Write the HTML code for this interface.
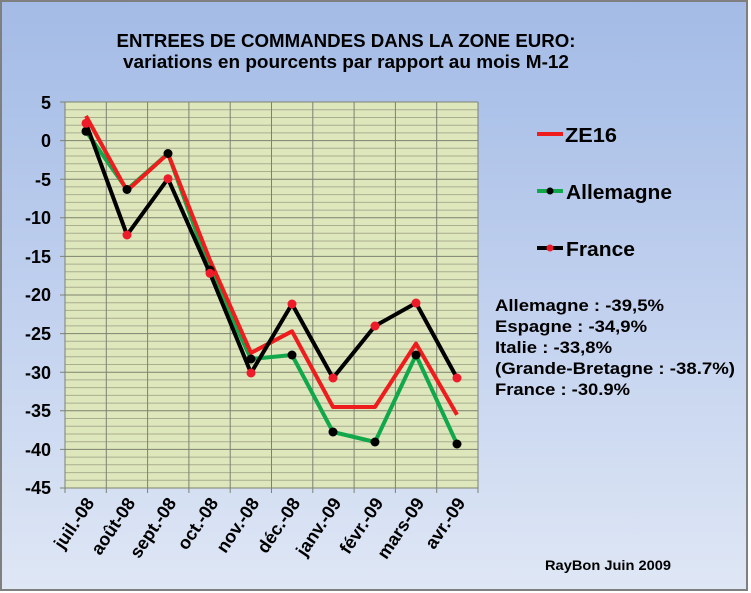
<!DOCTYPE html>
<html><head><meta charset="utf-8"><style>
html,body{margin:0;padding:0;background:#fff}
svg{display:block;font-family:"Liberation Sans",sans-serif;font-weight:bold}
</style></head><body>
<svg width="751" height="593" viewBox="0 0 751 593" xmlns="http://www.w3.org/2000/svg">
<defs>
<linearGradient id="bg" x1="0" y1="0" x2="0" y2="1">
<stop offset="0" stop-color="#a3bbe6"/>
<stop offset="0.5" stop-color="#c0d0ee"/>
<stop offset="1" stop-color="#dfe7f5"/>
</linearGradient>
</defs>
<rect x="1" y="1" width="746" height="589" fill="url(#bg)" stroke="#7f7f7f" stroke-width="2"/>
<text x="346" y="47" font-size="18" text-anchor="middle" textLength="459" lengthAdjust="spacingAndGlyphs">ENTREES DE COMMANDES DANS LA ZONE EURO:</text>
<text x="346" y="68" font-size="18" text-anchor="middle" textLength="446" lengthAdjust="spacingAndGlyphs">variations  en pourcents par rapport au mois M-12</text>
<rect x="65" y="102" width="413" height="386" fill="#dee6bc"/>
<g stroke="#a9ae90" stroke-width="1">
<path d="M65 109.7H478M65 117.5H478M65 125.2H478M65 132.9H478M65 148.3H478M65 156.0H478M65 163.8H478M65 171.5H478M65 186.9H478M65 194.6H478M65 202.4H478M65 210.1H478M65 225.5H478M65 233.2H478M65 241.0H478M65 248.7H478M65 264.1H478M65 271.8H478M65 279.6H478M65 287.3H478M65 302.7H478M65 310.4H478M65 318.2H478M65 325.9H478M65 341.3H478M65 349.0H478M65 356.8H478M65 364.5H478M65 379.9H478M65 387.6H478M65 395.4H478M65 403.1H478M65 418.5H478M65 426.2H478M65 434.0H478M65 441.7H478M65 457.1H478M65 464.8H478M65 472.6H478M65 480.3H478"/>
</g>
<g stroke="#7d8270" stroke-width="1">
<path d="M60 102H478M60 140.6H478M60 179.2H478M60 217.8H478M60 256.4H478M60 295H478M60 333.6H478M60 372.2H478M60 410.8H478M60 449.4H478M60 488H478"/>
<path d="M65 102V493M106.3 102V493M147.6 102V493M188.9 102V493M230.2 102V493M271.5 102V493M312.8 102V493M354.1 102V493M395.4 102V493M436.7 102V493M478 102V493"/>
</g>
<g font-size="18" text-anchor="end">
<text x="51" y="109">5</text><text x="51" y="147">0</text><text x="51" y="186">-5</text><text x="51" y="224">-10</text><text x="51" y="263">-15</text><text x="51" y="301">-20</text><text x="51" y="340">-25</text><text x="51" y="379">-30</text><text x="51" y="417">-35</text><text x="51" y="456">-40</text><text x="51" y="494">-45</text>
</g>
<g font-size="18" text-anchor="end">
<text transform="translate(95,503) rotate(-56)">juil.-08</text>
<text transform="translate(136,503) rotate(-56)">août-08</text>
<text transform="translate(177,503) rotate(-56)">sept.-08</text>
<text transform="translate(219,503) rotate(-56)">oct.-08</text>
<text transform="translate(260,503) rotate(-56)">nov.-08</text>
<text transform="translate(301,503) rotate(-56)">déc.-08</text>
<text transform="translate(342,503) rotate(-56)">janv.-09</text>
<text transform="translate(384,503) rotate(-56)">févr.-09</text>
<text transform="translate(425,503) rotate(-56)">mars-09</text>
<text transform="translate(466,503) rotate(-56)">avr.-09</text>
</g>
<polyline fill="none" stroke="#10a84a" stroke-width="4" stroke-linejoin="round" points="86,131.3 127,189.5 168,153.5 210,270 251,359 292,355 333,432 375,442 416,355 457,444"/>
<polyline fill="none" stroke="#ee1c1c" stroke-width="4" stroke-linejoin="round" points="86,115.9 127,190.8 168,153.7 210,260.3 251,352.9 292,331.3 333,407 375,407 416,343.6 457,414.7"/>
<polyline fill="none" stroke="#000" stroke-width="4" stroke-linejoin="round" points="86,123.3 127,235 168,178.7 210,273.3 251,373 292,304 333,378 375,326 416,303 457,378"/>
<g fill="#000">
<circle cx="86" cy="131.3" r="4.5"/><circle cx="127" cy="189.5" r="4.5"/><circle cx="168" cy="153.5" r="4.5"/><circle cx="210" cy="270" r="4.5"/><circle cx="251" cy="359" r="4.5"/><circle cx="292" cy="355" r="4.5"/><circle cx="333" cy="432" r="4.5"/><circle cx="375" cy="442" r="4.5"/><circle cx="416" cy="355" r="4.5"/><circle cx="457" cy="444" r="4.5"/>
</g>
<g fill="#ee1c2a">
<circle cx="86" cy="123.3" r="4.5"/><circle cx="127" cy="235" r="4.5"/><circle cx="168" cy="178.7" r="4.5"/><circle cx="210" cy="273.3" r="4.5"/><circle cx="251" cy="373" r="4.5"/><circle cx="292" cy="304" r="4.5"/><circle cx="333" cy="378" r="4.5"/><circle cx="375" cy="326" r="4.5"/><circle cx="416" cy="303" r="4.5"/><circle cx="457" cy="378" r="4.5"/>
</g>
<line x1="537" y1="134" x2="563" y2="134" stroke="#ee1c1c" stroke-width="4"/>
<text x="565" y="142" font-size="20" textLength="52" lengthAdjust="spacingAndGlyphs">ZE16</text>
<line x1="537" y1="191" x2="563" y2="191" stroke="#10a84a" stroke-width="4"/>
<circle cx="550" cy="191" r="3.5" fill="#000"/>
<text x="566" y="199" font-size="20" textLength="106" lengthAdjust="spacingAndGlyphs">Allemagne</text>
<line x1="537" y1="248" x2="563" y2="248" stroke="#000" stroke-width="4"/>
<circle cx="550" cy="248" r="3.5" fill="#ee1c2a"/>
<text x="566" y="256" font-size="20" textLength="69" lengthAdjust="spacingAndGlyphs">France</text>
<g font-size="17">
<text x="495" y="311" textLength="169" lengthAdjust="spacingAndGlyphs">Allemagne : -39,5%</text>
<text x="495" y="332" textLength="152" lengthAdjust="spacingAndGlyphs">Espagne : -34,9%</text>
<text x="495" y="353" textLength="117" lengthAdjust="spacingAndGlyphs">Italie : -33,8%</text>
<text x="495" y="374" textLength="240" lengthAdjust="spacingAndGlyphs">(Grande-Bretagne : -38.7%)</text>
<text x="495" y="395" textLength="135" lengthAdjust="spacingAndGlyphs">France : -30.9%</text>
</g>
<text x="545" y="570" font-size="14" textLength="126" lengthAdjust="spacingAndGlyphs">RayBon Juin 2009</text>
</svg>
</body></html>
